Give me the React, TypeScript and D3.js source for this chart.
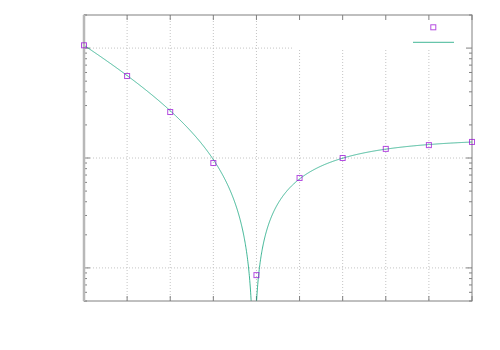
import React from 'react';
import * as d3 from 'd3';

// measured points
const xValues = [0, 1, 2, 3, 4, 5, 6, 7, 8, 9];
const yValues = [106, 55.7, 26.2, 9.0, 0.86, 6.58, 10.0, 12.1, 13.1, 14.0];

// fitted curve f(x) = A + B * exp(-k x), plotted as |f|
const fitA = -15;
const fitB = 121;
const fitK = 0.53;

const xTicks = [0, 1, 2, 3, 4, 5, 6, 7, 8, 9];
const yDecades = [1, 10, 100];

const width = 500, height = 350;
const left = 84, right = 472, top = 15, bottom = 301;
// key area blanks the grid behind it
const keyLeft = 293, keyBottom = 50;

const x = d3.scaleLinear().domain([0, 9]).range([left, right]);
const y = d3.scaleLog().domain([0.5, 200]).range([bottom, top]);

const fit = (t) => Math.abs(fitA + fitB * Math.exp(-fitK * t));

const App = () => {
    const samples = d3.range(0, 9.0001, 0.005);
    const line = d3.line()
        .x((t) => x(t))
        .y((t) => y(Math.max(fit(t), 1e-4)));

    const minor = [];
    [0.1, 1, 10, 100].forEach((dec) => {
        for (let m = 2; m <= 9; m++) {
            const v = dec * m;
            if (v >= 0.5 && v <= 200) minor.push(v);
        }
    });

    const axisColor = '#808080';
    const gridColor = '#c4c4c4';

    return (
        <svg width={width} height={height}
             style={{ position: 'absolute', left: 0, top: 0, background: '#fff' }}>
            <defs>
                <clipPath id="plot">
                    <rect x={left} y={top} width={right - left} height={bottom - top} />
                </clipPath>
            </defs>
            <g stroke={gridColor} strokeWidth={1} strokeDasharray="1,2" fill="none">
                {xTicks.slice(1, -1).map((t) => (
                    <line key={`gx-${t}`} x1={x(t)} x2={x(t)}
                          y1={x(t) > keyLeft ? keyBottom : top} y2={bottom} />
                ))}
                {yDecades.map((d) => (
                    <line key={`gy-${d}`} x1={left}
                          x2={y(d) < keyBottom ? keyLeft : right}
                          y1={y(d)} y2={y(d)} />
                ))}
            </g>
            <g stroke={axisColor} strokeWidth={1}>
                {xTicks.map((t) => (
                    <g key={`xt-${t}`}>
                        <line x1={x(t)} x2={x(t)} y1={bottom} y2={bottom - 5} />
                        <line x1={x(t)} x2={x(t)} y1={top} y2={top + 5} />
                    </g>
                ))}
                {yDecades.map((d) => (
                    <g key={`yt-${d}`}>
                        <line x1={left} x2={left + 6} y1={y(d)} y2={y(d)} />
                        <line x1={right} x2={right - 6} y1={y(d)} y2={y(d)} />
                    </g>
                ))}
                {minor.map((v) => (
                    <g key={`ym-${v}`}>
                        <line x1={left} x2={left + 3} y1={y(v)} y2={y(v)} />
                        <line x1={right} x2={right - 3} y1={y(v)} y2={y(v)} />
                    </g>
                ))}
            </g>
            <path d={line(samples)} fill="none" stroke="#009e73" strokeWidth={1}
                  strokeOpacity={0.75} clipPath="url(#plot)" />
            <rect x={left} y={top} width={right - left} height={bottom - top}
                  fill="none" stroke={axisColor} strokeWidth={1} />
            <line x1={left} x2={left} y1={top} y2={bottom} stroke="#b8b8b8" strokeWidth={2.5} />
            {xValues.map((xv, i) => (
                <rect key={`pt-${i}`} x={x(xv) - 2.5} y={y(yValues[i]) - 2.5}
                      width={5} height={5} fill="none" stroke="#9400d3"
                      strokeOpacity={0.7} strokeWidth={1} />
            ))}
            {/* key */}
            <rect x={433.3 - 2.5} y={27.3 - 2.5} width={5} height={5} fill="none"
                  stroke="#9400d3" strokeOpacity={0.7} strokeWidth={1} />
            <line x1={413} x2={454} y1={42.3} y2={42.3} stroke="#009e73"
                  strokeOpacity={0.75} strokeWidth={1} />
        </svg>
    );
};

export default App;
